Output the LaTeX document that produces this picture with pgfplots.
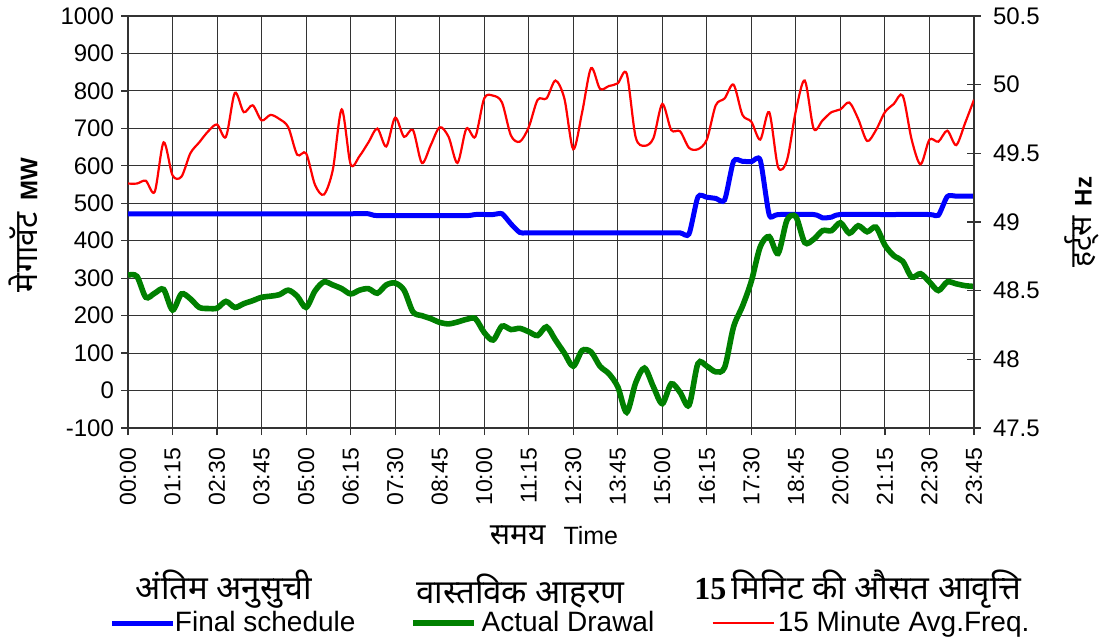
\documentclass[border=0pt]{standalone}
\usepackage{fontspec}
\setmainfont{Liberation Sans}
\newfontfamily\hindi[Script=Devanagari]{Noto Sans}
\newfontfamily\serifb{Liberation Serif}
\usepackage{pgfplots}
\pgfplotsset{compat=1.18}

\pgfplotstableread{
x y
0 472
5 472
10 472
15 472
20 472
25 472
27 472
28 467
33 467
38 467
39 470
41 470
42 472
43 445
44 422
45 421
50 421
55 421
60 421
62 421
63 418
64 517
65 516
66 513
67 509
68 612
69 612
70 611
71 615
72 470
73 470
77 470
78 461
79 463
80 470
85 470
90 470
91 468
92 518
93 519
95 519
}\schedtab

\pgfplotstableread{
x y
0 308
1 305
2 249
3 260
4 270
5 215
6 258
7 245
8 222
9 219
10 220
11 238
12 222
13 232
14 240
15 249
16 252
17 256
18 268
19 252
20 222
21 266
22 290
23 282
24 272
25 258
26 268
27 272
28 260
29 282
30 287
31 268
32 210
33 200
34 192
35 182
36 178
37 183
38 190
39 192
40 155
41 135
42 172
43 163
44 166
45 157
46 147
47 170
48 135
49 100
50 65
51 107
52 103
53 65
54 45
55 10
56 -58
57 20
58 60
59 10
60 -35
61 18
62 -5
63 -39
64 72
65 65
66 50
67 62
68 170
69 225
70 292
71 384
72 411
73 366
74 455
75 464
76 395
77 404
78 427
79 427
80 448
81 420
82 440
83 424
84 436
85 388
86 360
87 345
88 303
89 312
90 290
91 267
92 290
93 285
94 280
95 278
}\drawaltab

\pgfplotstableread{
x y
0 49.28
1 49.28
2 49.30
3 49.22
4 49.58
5 49.34
6 49.33
7 49.50
8 49.58
9 49.66
10 49.71
11 49.62
12 49.94
13 49.80
14 49.85
15 49.74
16 49.78
17 49.75
18 49.69
19 49.49
20 49.50
21 49.27
22 49.20
23 49.38
24 49.82
25 49.42
26 49.48
27 49.58
28 49.68
29 49.55
30 49.76
31 49.62
32 49.67
33 49.43
34 49.56
35 49.69
36 49.62
37 49.43
38 49.68
39 49.62
40 49.90
41 49.92
42 49.87
43 49.63
44 49.585
45 49.69
46 49.89
47 49.90
48 50.03
49 49.90
50 49.53
51 49.80
52 50.12
53 49.97
54 49.99
55 50.01
56 50.08
57 49.62
58 49.555
59 49.61
60 49.86
61 49.67
62 49.66
63 49.54
64 49.53
65 49.60
66 49.85
67 49.90
68 50.00
69 49.78
70 49.73
71 49.60
72 49.80
73 49.40
74 49.45
75 49.81
76 50.03
77 49.68
78 49.74
79 49.80
80 49.82
81 49.87
82 49.75
83 49.59
84 49.67
85 49.80
86 49.86
87 49.92
88 49.60
89 49.42
90 49.60
91 49.585
92 49.665
93 49.56
94 49.72
95 49.89
}\freqtab

\definecolor{schedblue}{RGB}{0,0,255}
\definecolor{drawgreen}{RGB}{0,128,0}
\definecolor{freqred}{RGB}{255,0,0}

\begin{document}
\begin{tikzpicture}
\useasboundingbox (-64pt,-107.5pt) rectangle (492pt,214pt);
\begin{axis}[
  scale only axis, width=423pt, height=206pt,
  xmin=0, xmax=95, ymin=-100, ymax=1000,
  xtick={0,5,...,95},
  xticklabels={00:00,01:15,02:30,03:45,05:00,06:15,07:30,08:45,10:00,11:15,12:30,13:45,15:00,16:15,17:30,18:45,20:00,21:15,22:30,23:45},
  ytick={-100,0,...,1000},
  xtick pos=bottom, ytick pos=left,
  tick align=outside,
  major tick length=3.5pt,
  grid=major,
  major grid style={black!80, line width=0.5pt},
  axis line style={black!80, line width=0.8pt},
  tick style={black!80, line width=0.6pt},
  x tick label style={rotate=90, anchor=east, font=\fontsize{11.5}{11.5}\selectfont},
  xticklabel shift=3pt,
  y tick label style={font=\fontsize{12}{12}\selectfont},
  /pgf/number format/assume math mode=true,
  /pgf/number format/1000 sep={},
  scaled y ticks=false,
  legend columns=3,
  legend style={draw=none, fill=none, at={(axis description cs:-0.02128,-0.4733)}, anchor=west,
    inner sep=0pt, outer sep=0pt, column sep=0pt,
    nodes={inner sep=0pt, outer sep=0pt},
    font=\fontsize{14}{14}\selectfont},
  legend image code/.code={\draw[#1] (0pt,0pt) -- (30.5pt,0pt);},
]
\addplot[schedblue, line width=2.5pt, smooth, tension=0.4] table[x=x,y=y] {\schedtab};
\addlegendentry{\makebox[117pt][l]{\hspace{-0.5pt}Final schedule}}
\addplot[drawgreen, line width=2.8pt, smooth, tension=0.5] table[x=x,y=y] {\drawaltab};
\addlegendentry{\makebox[117.5pt][l]{\hspace{2.5pt}Actual Drawal}}
\addlegendimage{freqred, line width=1.1pt}
\addlegendentry{\hspace{1.5pt}15 Minute Avg.Freq.}
\end{axis}
\begin{axis}[
  scale only axis, width=423pt, height=206pt,
  xmin=0, xmax=95, ymin=47.5, ymax=50.5,
  axis x line=none,
  axis y line*=right,
  ytick={47.5,48,...,50.5},
  tick align=center,
  major tick length=7pt,
  axis line style={black!80, line width=0.8pt},
  tick style={black!80, line width=0.6pt},
  y tick label style={font=\fontsize{12}{12}\selectfont},
  yticklabel shift=2.5pt,
  /pgf/number format/assume math mode=true,
]
\addplot[freqred, line width=1.1pt, smooth, tension=0.5] table[x=x,y=y] {\freqtab};
\end{axis}
% axis titles
\node[rotate=90] at (-52.5pt,101.5pt) {{\hindi\fontsize{16}{16}\selectfont मेगावॅट}\hspace{6pt}{\bfseries\fontsize{12}{12}\selectfont MW}};
\node[rotate=90] at (477pt,103pt) {{\hindi\fontsize{15}{15}\selectfont हर्ट्स}\hspace{5pt}{\bfseries\fontsize{12}{12}\selectfont Hz}};
\node at (213pt,-53.5pt) {{\hindi\fontsize{15}{15}\selectfont समय}\hspace{9pt}{\fontsize{12.5}{12.5}\selectfont Time}};
% legend headings
\node at (48pt,-80.5pt) {\hindi\fontsize{16.5}{16.5}\selectfont अंतिम अनुसुची};
\node at (196.25pt,-81.5pt) {\hindi\fontsize{16.5}{16.5}\selectfont वास्तविक आहरण};
\node at (365pt,-80.5pt) {{\serifb\bfseries\fontsize{16}{16}\selectfont 15} {\hindi\fontsize{16.5}{16.5}\selectfont मिनिट की औसत आवृत्ति}};
\end{tikzpicture}
\end{document}
